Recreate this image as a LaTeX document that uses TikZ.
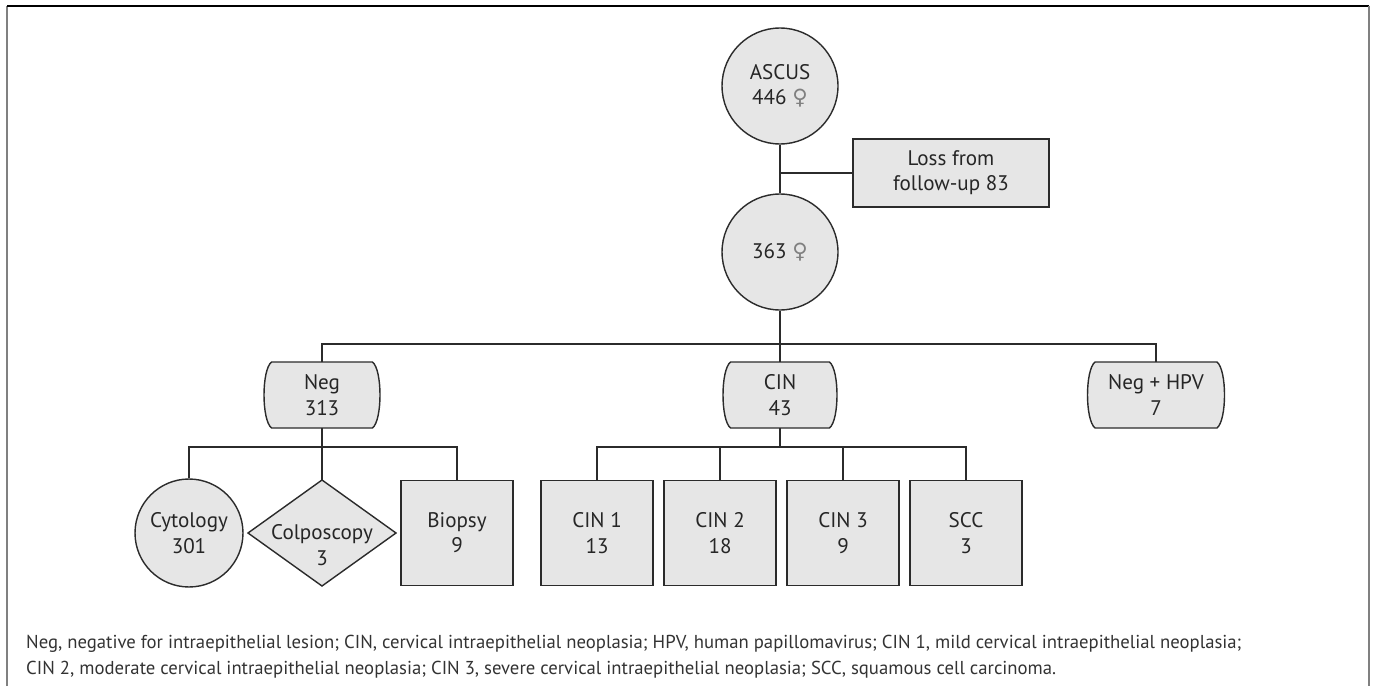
\documentclass[tikz,border=0pt]{standalone}
\usepackage{fontspec}
\setmainfont{PT Sans}
\newfontfamily\symfont{DejaVu Sans}
\usetikzlibrary{shapes.geometric}

\definecolor{boxfill}{HTML}{E6E6E6}
\definecolor{edge}{HTML}{2B2B2B}
\newcommand{\fem}{{\symfont\color{gray}♀}}

\begin{document}
\begin{tikzpicture}[x=0.02cm, y=-0.02cm,
    every node/.style={font=\fontsize{12}{14.4}\selectfont, align=center, text=black!85},
    base/.style={draw=edge, line width=0.8pt, fill=boxfill, inner sep=0pt},
    outline/.style={draw=edge, line width=0.8pt, fill=boxfill},
    textonly/.style={rectangle, inner sep=0pt},
    bigcirc/.style={base, circle, minimum size=2.32cm},
    smallcirc/.style={base, circle, minimum size=2.16cm},
    pill/.style={textonly, minimum height=1.32cm},
    squarebox/.style={base, rectangle, minimum width=2.24cm, minimum height=2.1cm},
    link/.style={draw=edge, line width=0.8pt}]
    \useasboundingbox (0,0) rectangle (1375,686);

    % frame (open at the bottom)
    \draw[gray, line width=0.8pt] (7,686) -- (7,6);
    \draw[black, line width=0.8pt] (7,6) -- (1369,6);
    \draw[gray, line width=0.8pt] (1369,6) -- (1369,686);

    % top of the tree
    \node[bigcirc] (ascus) at (780,86) {ASCUS\\446 \fem};
    \node[bigcirc] (n363) at (780,252) {363 \fem};
    \node[base, rectangle, minimum width=3.92cm, minimum height=1.36cm] (loss) at (951,173) {Loss from\\follow-up 83};

    % first split: flat top and bottom, sides bowed out
    \foreach \cx/\w in {322/117, 780/115, 1156/138} {
        \filldraw[outline] ({\cx-\w/2+8},362) -- ({\cx+\w/2-8},362)
            .. controls ({\cx+\w/2+2},370) and ({\cx+\w/2+2},420) .. ({\cx+\w/2-8},428)
            -- ({\cx-\w/2+8},428)
            .. controls ({\cx-\w/2-2},420) and ({\cx-\w/2-2},370) .. ({\cx-\w/2+8},362) -- cycle;
    }
    \node[pill, minimum width=2.34cm] (neg) at (322,395) {Neg\\313};
    \node[pill, minimum width=2.3cm] (cin) at (780,395) {CIN\\43};
    \node[pill, minimum width=2.76cm] (hpv) at (1156,395) {Neg + HPV\\7};

    % under Neg
    \node[smallcirc] (cyto) at (189,533) {Cytology\\301};
    \filldraw[outline] (248,533) -- (322,480) -- (396,533) -- (322,586) -- cycle;
    \coordinate (colpotop) at (322,480);
    \node[textonly] (colpo) at (322,545) {Colposcopy\\3};
    \node[squarebox] (biopsy) at (457,533) {Biopsy\\9};

    % under CIN
    \node[squarebox] (cin1) at (597,533) {CIN 1\\13};
    \node[squarebox] (cin2) at (720,533) {CIN 2\\18};
    \node[squarebox] (cin3) at (843,533) {CIN 3\\9};
    \node[squarebox] (scc) at (966,533) {SCC\\3};

    % bus lines
    \coordinate (bus) at (780,344);
    \coordinate (negbus) at (322,447);
    \coordinate (cinbus) at (780,447);

    % connectors
    \draw[link] (ascus) -- (n363);
    \draw[link] (loss.west) -- (loss.west -| ascus);
    \draw[link] (n363) -- (bus);
    \draw[link] (neg.north) -- (neg.north |- bus) -- (hpv.north |- bus) -- (hpv.north);
    \draw[link] (cin.north) -- (cin.north |- bus);
    \draw[link] (neg.south) -- (negbus);
    \draw[link] (cyto.north) -- (cyto.north |- negbus) -- (biopsy.north |- negbus) -- (biopsy.north);
    \draw[link] (colpotop) -- (negbus);
    \draw[link] (cin.south) -- (cinbus);
    \draw[link] (cin1.north) -- (cin1.north |- cinbus) -- (scc.north |- cinbus) -- (scc.north);
    \draw[link] (cin2.north) -- (cin2.north |- cinbus);
    \draw[link] (cin3.north) -- (cin3.north |- cinbus);

    % legend
    \node[anchor=west, align=left, text=black!80, font=\fontsize{10.65}{14.8}\selectfont] (legend) at (20,657)
        {Neg, negative for intraepithelial lesion; CIN, cervical intraepithelial neoplasia; HPV, human papillomavirus; CIN 1, mild cervical intraepithelial neoplasia;\\
         CIN 2, moderate cervical intraepithelial neoplasia; CIN 3, severe cervical intraepithelial neoplasia; SCC, squamous cell carcinoma.};
\end{tikzpicture}
\end{document}
